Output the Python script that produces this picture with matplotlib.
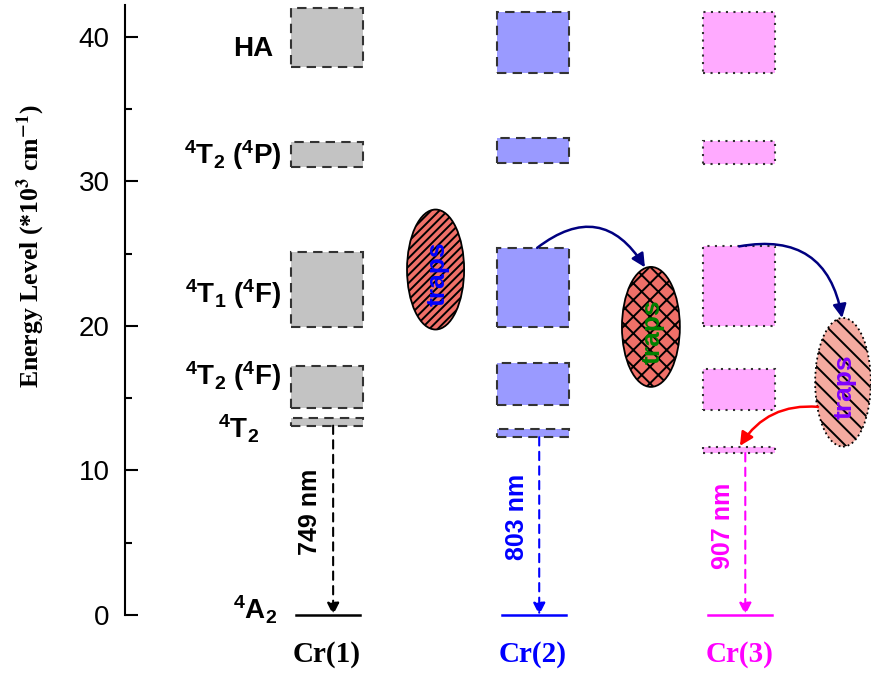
"""Energy level scheme for the three Cr sites, with trap-mediated transfer."""
import matplotlib
matplotlib.use("Agg")
import matplotlib.pyplot as plt
from matplotlib.patches import Ellipse, FancyArrowPatch, Rectangle

plt.rcParams["font.family"] = ["Liberation Sans", "DejaVu Sans"]
plt.rcParams["mathtext.fontset"] = "custom"
plt.rcParams["mathtext.rm"] = "Liberation Sans:bold"
plt.rcParams["mathtext.it"] = "Liberation Sans:bold"
plt.rcParams["mathtext.bf"] = "Liberation Sans:bold"
plt.rcParams["hatch.linewidth"] = 1.4

# energy bands, 10^3 cm^-1 (HA, 4T2(4P), 4T1(4F), 4T2(4F), 4T2)
STATE_LABELS = ["HA", r"$^4$T$_2$ ($^4$P)", r"$^4$T$_1$ ($^4$F)",
                r"$^4$T$_2$ ($^4$F)", r"$^4$T$_2$"]
STATE_LABEL_Y = [38.7, 31.2, 21.6, 15.9, 12.2]
GROUND_LABEL = r"$^4$A$_2$"
SITES = ["Cr(1)", "Cr(2)", "Cr(3)"]
BAND_LOW = [
    [37.9, 31.0, 19.9, 14.3, 13.1],
    [37.5, 31.3, 19.9, 14.5, 12.3],
    [37.5, 31.2, 20.0, 14.2, 11.2],
]
BAND_HIGH = [
    [42.0, 32.7, 25.1, 17.2, 13.6],
    [41.7, 33.0, 25.4, 17.4, 12.9],
    [41.7, 32.8, 25.5, 17.0, 11.6],
]
EMISSION_NM = [749, 803, 907]
Y_TICKS = [0, 10, 20, 30, 40]

FILL = ["#c3c3c3", "#9a9aff", "#ffaaff"]
SITE_COLOR = ["black", "#0000ff", "#ff00ff"]
EDGE_STYLE = [(0, (4.5, 3)), (0, (4.5, 3)), (0, (1.0, 2.6))]

fig = plt.figure(figsize=(8.71, 6.79), dpi=100)
ax = fig.add_axes([125 / 871, 64 / 679, 746 / 871, 610 / 679])
ax.set_xlim(0.02, 3.64)
ax.set_ylim(0, 42.2)

width = 0.35
for i, site in enumerate(SITES):
    cx = i + 1
    for low, high in zip(BAND_LOW[i], BAND_HIGH[i]):
        ax.add_patch(Rectangle((cx - width / 2, low), width, high - low,
                               facecolor=FILL[i], edgecolor="#333333",
                               linestyle=EDGE_STYLE[i], lw=1.5, zorder=2))
    # ground state line
    ax.plot([cx - 0.15, cx + 0.16], [0, 0], color=SITE_COLOR[i], lw=1.8,
            zorder=3, clip_on=False)
    # radiative emission from lowest 4T2 level
    ax.annotate("", xy=(cx + 0.03, 0), xytext=(cx + 0.03, BAND_LOW[i][-1]),
                arrowprops=dict(arrowstyle="-|>", color=SITE_COLOR[i], lw=1.5,
                                linestyle=(0, (4, 3)), mutation_scale=18,
                                shrinkA=0, shrinkB=0), zorder=3)
    ax.text(cx - 0.08, BAND_LOW[i][-1] / 2 + 0.6, f"{EMISSION_NM[i]} nm",
            rotation=90, ha="center", va="center", fontsize=18,
            fontweight="bold", color=SITE_COLOR[i])
    ax.text(cx, -2.7, site, ha="center", va="center", fontsize=21,
            fontweight="bold", family=["Liberation Serif", "DejaVu Serif"],
            color=SITE_COLOR[i])

# state labels on the left
label_right = [0.74, 0.78, 0.78, 0.78, 0.67]
for text, y, xr in zip(STATE_LABELS, STATE_LABEL_Y, label_right):
    ax.text(xr, y, text, ha="right", va="baseline", fontsize=20,
            fontweight="bold")
ax.text(0.76, -0.3, GROUND_LABEL, ha="right", va="baseline", fontsize=20,
        fontweight="bold", clip_on=False)

# traps
traps = [
    ((1.527, 23.9), 0.277, 8.3, "#f07068", "////", "-", "#0000ff"),
    ((2.572, 19.93), 0.281, 8.3, "#f07068", "xx", "-", "#008000"),
    ((3.504, 16.1), 0.27, 8.9, "#f4aaa0", "\\\\", ":", "#8000ff"),
]
for center, w, h, fc, hatch, ls, tc in traps:
    ax.add_patch(Ellipse(center, w, h, facecolor=fc, edgecolor="black",
                         hatch=hatch, lw=1.3, linestyle=ls, zorder=2,
                         clip_on=False))
    ax.text(center[0] + 0.01, center[1] - 0.3, "traps", rotation=90,
            ha="center", va="center", fontsize=19, fontweight="bold",
            color=tc, zorder=4)

# energy transfer arrows
transfers = [
    ((2.02, 25.4), (2.543, 24.05), -0.55, "#000080"),
    ((3.00, 25.5), (3.50, 20.55), -0.5, "#000080"),
    ((3.383, 14.4), (3.004, 11.7), 0.3, "#ff0000"),
]
for start, end, rad, color in transfers:
    ax.add_patch(FancyArrowPatch(start, end, connectionstyle=f"arc3,rad={rad}",
                                 arrowstyle="-|>", mutation_scale=20, lw=1.8,
                                 color=color, shrinkA=0, shrinkB=0, zorder=5,
                                 clip_on=False))

for side in ("top", "right", "bottom"):
    ax.spines[side].set_visible(False)
ax.spines["left"].set_linewidth(1.5)
ax.set_xticks([])
ax.set_yticks(Y_TICKS)
ax.set_yticks([5, 15, 25, 35], minor=True)
ax.tick_params(axis="y", which="major", direction="in", length=9, width=1.5,
               labelsize=20, pad=11)
ax.tick_params(axis="y", which="minor", direction="in", length=5, width=1.5)
ax.set_ylabel(r"Energy Level (*10$^\mathbf{3}$ cm$^\mathbf{-1}$)",
              fontsize=18.5, fontweight="bold",
              family=["Liberation Serif", "DejaVu Serif"],
              math_fontfamily="stix")
ax.yaxis.set_label_coords(-0.105, 0.605)

fig.savefig("out.png", dpi=100)
